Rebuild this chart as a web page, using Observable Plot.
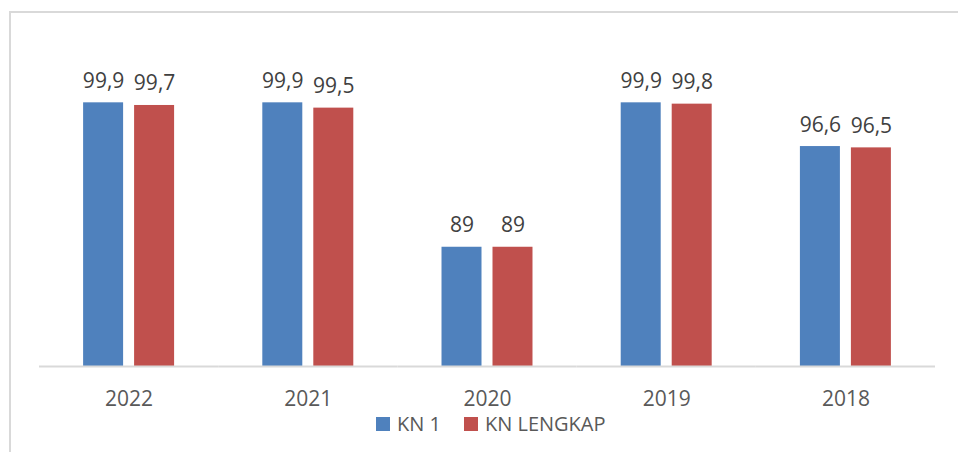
<!DOCTYPE html>
<html>
<head>
<meta charset="utf-8">
<script src="https://cdn.jsdelivr.net/npm/d3@7"></script>
<script src="https://cdn.jsdelivr.net/npm/@observablehq/plot@0.6"></script>
<style>
  html, body { margin: 0; padding: 0; background: #fff; overflow: hidden; width: 958px; height: 452px; }
  #frame { position: absolute; left: 9px; top: 11px; width: 1000px; height: 500px;
           border-left: 2px solid #d9d9d9; border-top: 2px solid #d9d9d9; box-sizing: border-box; }
  #chart { position: absolute; left: 0; top: 0; }
  #legend { position: absolute; left: 376px; top: 412px; display: flex; align-items: center;
            font-family: "Open Sans", sans-serif; font-size: 20px; color: #595959; line-height: 24px; }
  .sw { width: 14px; height: 14px; display: inline-block; margin-right: 7px; }
  .item { display: flex; align-items: center; margin-right: 23px; }
</style>
</head>
<body>
<div id="frame"></div>
<div id="chart"></div>
<div id="legend"></div>
<script>
const years = ["2022", "2021", "2020", "2019", "2018"];
const series = ["KN 1", "KN LENGKAP"];
const kn1 = [99.9, 99.9, 89, 99.9, 96.6];
const knLengkap = [99.7, 99.5, 89, 99.8, 96.5];
const colors = ["#4F81BD", "#C0504D"];
const yBase = 80;
const yTop = 100;

const data = [];
years.forEach((yr, i) => {
  data.push({year: yr, series: series[0], value: kn1[i]});
  data.push({year: yr, series: series[1], value: knLengkap[i]});
});
const fmt = v => String(v).replace(".", ",");

const chart = Plot.plot({
  width: 958,
  height: 410,
  marginLeft: 39,
  marginRight: 23,
  marginTop: 101,
  marginBottom: 44,
  style: {fontFamily: "Open Sans, sans-serif", fontSize: "21px", background: "transparent", overflow: "visible"},
  fx: {domain: years, padding: 0, label: null, round: false},
  x: {domain: series, paddingInner: 0.2157, paddingOuter: 0.865, axis: null, round: false},
  y: {domain: [yBase, yTop], axis: null},
  color: {domain: series, range: colors},
  marks: [
    Plot.barY(data, {fx: "year", x: "series", y1: () => yBase, y2: "value", fill: "series"}),
    Plot.ruleY([yBase], {stroke: "#d9d9d9", strokeWidth: 2}),
    Plot.text(data, {fx: "year", x: "series", y: "value", text: d => fmt(d.value),
      lineAnchor: "bottom", dy: -15, fill: "#404040", fontSize: 21}),
    Plot.axisFx({anchor: "bottom", tickSize: 0, tickPadding: 25, fontSize: 21, fill: "#595959", label: null})
  ]
});
document.getElementById("chart").appendChild(chart);

const legend = document.getElementById("legend");
series.forEach((s, i) => {
  const item = document.createElement("span");
  item.className = "item";
  const sw = document.createElement("span");
  sw.className = "sw";
  sw.style.background = colors[i];
  item.appendChild(sw);
  item.appendChild(document.createTextNode(s));
  legend.appendChild(item);
});
</script>
</body>
</html>
